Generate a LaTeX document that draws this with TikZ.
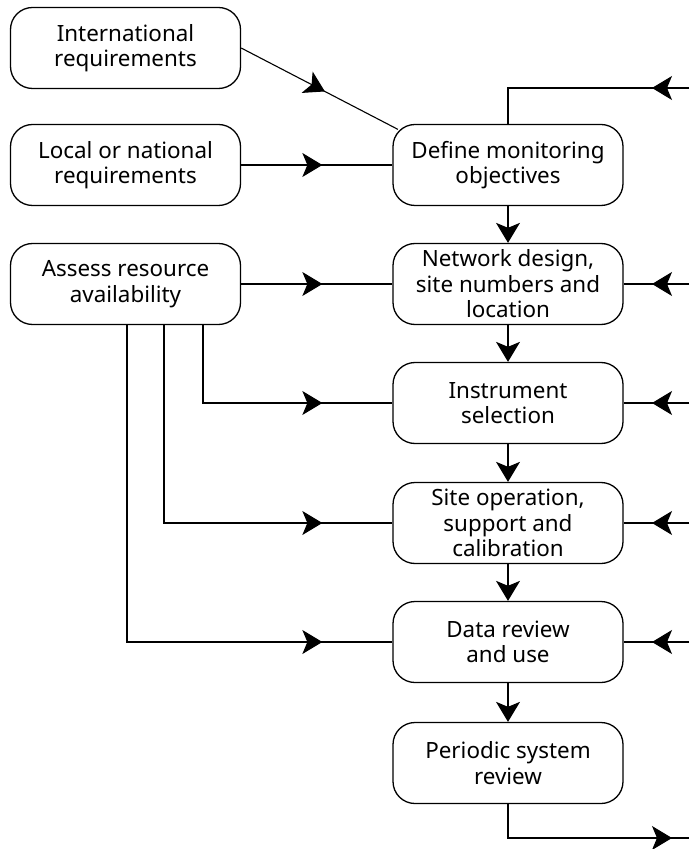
\documentclass[tikz,border=0pt]{standalone}
\usepackage{fontspec}
\setmainfont{Noto Sans}
\usetikzlibrary{arrows.meta,decorations.markings,calc}
\begin{document}
\begin{tikzpicture}[x=0.5pt,y=-0.5pt,
  box/.style={draw,line width=0.65pt,rounded corners=11pt,
    minimum width=115pt,minimum height=40.5pt,inner sep=0pt,
    align=center,font=\fontsize{11.2}{12.7}\selectfont},
  link/.style={line width=0.55pt},
  tip/.style={-{Stealth[length=10pt,width=12pt,inset=2.5pt]}},
  midarrow/.style={postaction={decorate},decoration={markings,
    mark=at position #1 with {\arrow{Stealth[length=10pt,width=12pt,inset=2.5pt]}}}}]
\useasboundingbox (0,0) rectangle (689,849);

% input boxes on the left
\node[box] (intl)   at (125.5,48)  {International\\requirements};
\node[box] (local)  at (125.5,165) {Local or national\\requirements};
\node[box] (assess) at (125.5,284) {Assess resource\\availability};

% main chain
\node[box] (define)   at (508,165) {Define monitoring\\objectives};
\node[box] (network)  at (508,284) {Network design,\\site numbers and\\location};
\node[box] (instr)    at (508,403) {Instrument\\selection};
\node[box] (site)     at (508,523) {Site operation,\\support and\\calibration};
\node[box] (data)     at (508,642) {Data review\\and use};
\node[box] (periodic) at (508,763) {Periodic system\\review};

% feedback entry and exit points at the right edge
\coordinate (r0) at (689,88);
\coordinate (r1) at (689,284);
\coordinate (r2) at (689,403);
\coordinate (r3) at (689,523);
\coordinate (r4) at (689,642);
\coordinate (rout) at (689,838);

% requirements into objectives
\draw[link,midarrow=-41pt] (intl.east) -- ($(define.north west)+(5.5,5.5)$);
\draw[link,midarrow=-35pt] (local.east) -- (define.west);
\draw[link,midarrow=-35pt] (assess.east) -- (network.west);

% resource branches
\draw[link,midarrow=-35pt] ([xshift=38.75pt]assess.south) |- (instr.west);
\draw[link,midarrow=-35pt] ([xshift=19.25pt]assess.south) |- (site.west);
\draw[link,midarrow=-35pt] ([xshift=0.75pt]assess.south) |- (data.west);

% main sequence
\draw[link,tip] (define.south) -- (network.north);
\draw[link,tip] (network.south) -- (instr.north);
\draw[link,tip] (instr.south) -- (site.north);
\draw[link,tip] (site.south) -- (data.north);
\draw[link,tip] (data.south) -- (periodic.north);

% feedback from the right
\draw[link,midarrow=18.5pt] (r0) -| (define.north);
\draw[link,midarrow=18.5pt] (r1) -- (network.east);
\draw[link,midarrow=18.5pt] (r2) -- (instr.east);
\draw[link,midarrow=18.5pt] (r3) -- (site.east);
\draw[link,midarrow=18.5pt] (r4) -- (data.east);

% output of the review
\draw[link,midarrow=-8.5pt] (periodic.south) |- (rout);
\end{tikzpicture}
\end{document}
